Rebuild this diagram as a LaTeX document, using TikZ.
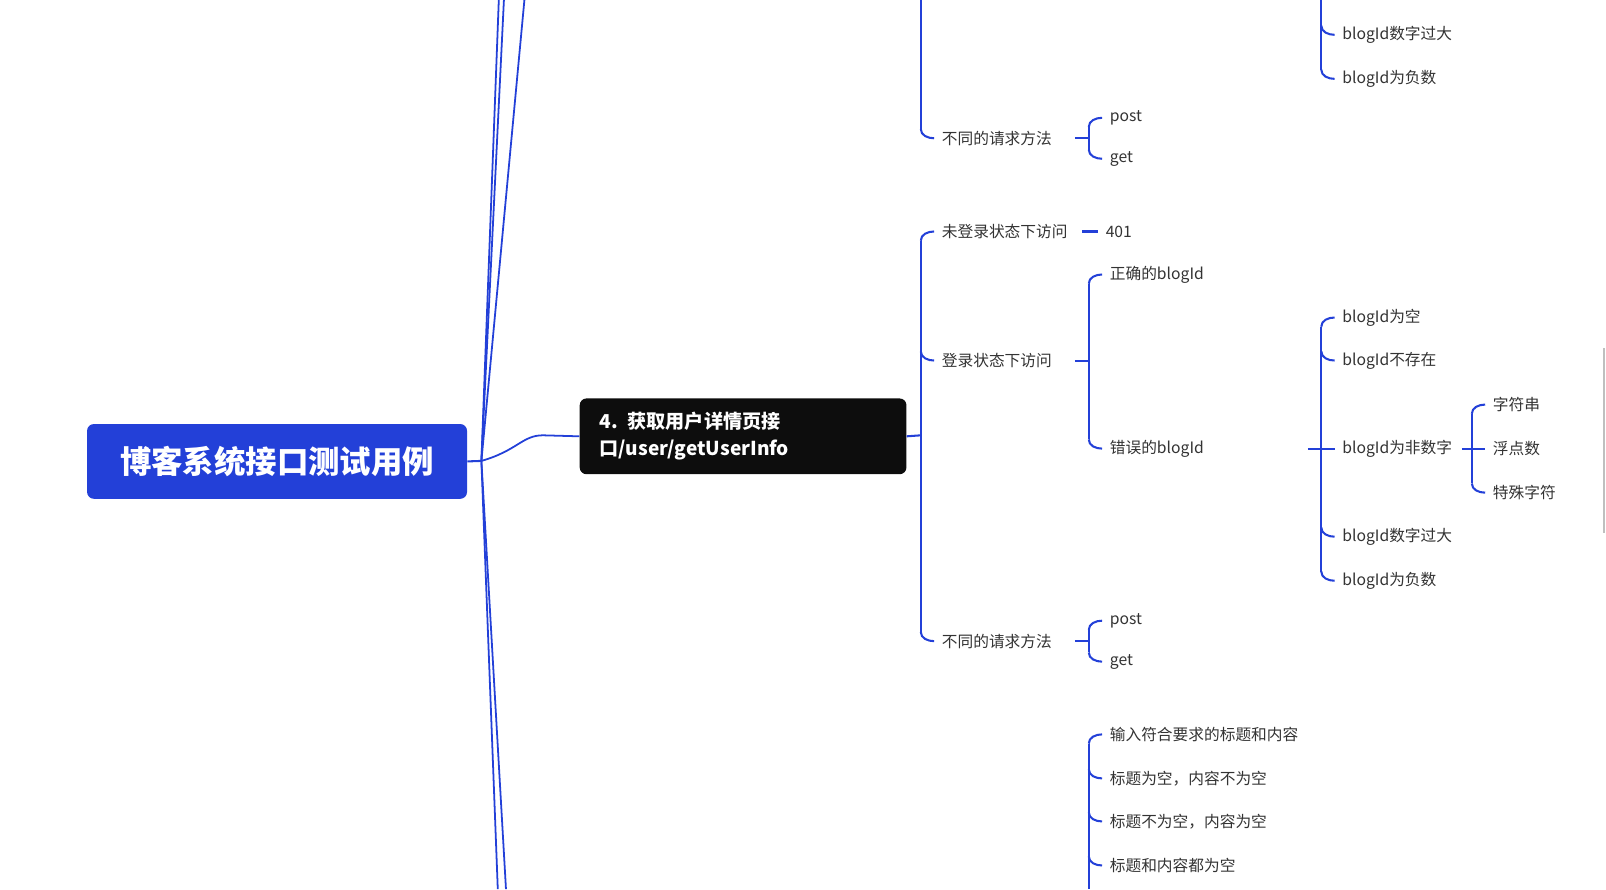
\documentclass[tikz,border=0pt]{standalone}
\usepackage{fontspec}
\setmainfont{Noto Sans CJK SC}
\definecolor{bl}{HTML}{2340D8}
\definecolor{tx}{HTML}{333333}
\begin{document}
\begin{tikzpicture}[x=0.75pt,y=-0.75pt,
  br/.style={draw=bl,line width=1.5pt},
  lbl/.style={text=tx,font=\fontsize{11.5}{13}\selectfont,inner xsep=5.5pt,inner ysep=0pt,anchor=west}]
\useasboundingbox (0,0) rectangle (1568,868);
% first: curve from below (top child); rest: curve from above
\newcommand\kidf[4]{\node[lbl] (#1) at (#2+13,#3) {#4};\draw[br] (#2,#3+9) to[out=90,in=180] (#1.west);}
\newcommand\kidr[4]{\node[lbl] (#1) at (#2+13,#3) {#4};\draw[br] (#2,#3-9) to[out=-90,in=180] (#1.west);}
\newcommand\kids[4]{\node[lbl] (#1) at (#2+13,#3) {#4};\draw[br] (#2,#3) -- (#1.west);}
% root
\node[fill=bl,rounded corners=5pt,minimum width=371*0.75pt,minimum height=73*0.75pt,text=white,font=\fontsize{23}{26}\selectfont\bfseries] (root) at (270.5,450.5) {博客系统接口测试用例};
\coordinate (j) at (470,450);
\draw[br] (root.east) -- (j);
% main trunk lines
\coordinate (t1) at (487,0);\coordinate (t2) at (492,0);\coordinate (t3) at (512,0);
\coordinate (b1) at (486,868);\coordinate (b2) at (494,868);
\foreach \e in {t1,t2,t3,b1,b2} \draw[br,line width=1.3pt] (j) -- (\e);
% node 4
\node[fill=black!95,rounded corners=5pt,minimum width=319*0.75pt,minimum height=74*0.75pt,text=white,align=left,text width=280*0.75pt,font=\fontsize{14}{19.5}\selectfont\bfseries] (n4) at (725.5,426) {4. 获取用户详情页接\\口/user/getUserInfo};
\draw[br,line width=1.3pt] (j) .. controls (505,440) and (510,425) .. (530,425) -- (n4.west);
% node 3 remnants (top)
\draw[br] (899,0) -- (899,126);
\kidr{a3}{899}{135}{不同的请求方法}
\draw[br] (a3.east) ++(15,0) -- (1063,135);
\draw[br] (1063,124) -- (1063,146);
\kidf{a3p}{1063}{115}{post}
\kidr{a3g}{1063}{155}{get}
\draw[br] (1290,0) -- (1290,68);
\kidr{a1}{1290}{34}{blogId数字过大}
\kidr{a2}{1290}{77}{blogId为负数}
% node 4 children
\draw[br] (n4.east) -- (899,425);
\draw[br] (899,235) -- (899,617);
\kidf{c1}{899}{226}{未登录状态下访问}
\kidr{c2}{899}{352}{登录状态下访问}
\kidr{c3}{899}{626}{不同的请求方法}
\node[lbl] (c11) at (1072,226) {401};
\draw[br] (c1.east) ++(7,0) -- (c11.west);
\draw[br] (c2.east) ++(15,0) -- (1063,352);
\draw[br] (1063,277) -- (1063,429);
\kidf{d1}{1063}{268}{正确的blogId}
\kidr{d2}{1063}{438}{错误的blogId}
\draw[br] (1277,438) -- (1290,438);
\draw[br] (1290,319) -- (1290,558);
\kidf{e1}{1290}{310}{blogId为空}
\kidr{e2}{1290}{352}{blogId不存在}
\kids{e3}{1290}{438}{blogId为非数字}
\kidr{e4}{1290}{524}{blogId数字过大}
\kidr{e5}{1290}{567}{blogId为负数}
\draw[br] (e3.east) ++(2,0) -- (1437,438);
\draw[br] (1437,404) -- (1437,472);
\kidf{f1}{1437}{395}{字符串}
\kids{f2}{1437}{438}{浮点数}
\kidr{f3}{1437}{481}{特殊字符}
\draw[br] (c3.east) ++(15,0) -- (1063,626);
\draw[br] (1063,615) -- (1063,637);
\kidf{g1}{1063}{606}{post}
\kidr{g2}{1063}{646}{get}
% bottom node
\draw[br] (1063,726) -- (1063,868);
\kidf{h1}{1063}{717}{输入符合要求的标题和内容}
\kidr{h2}{1063}{760}{标题为空，内容不为空}
\kidr{h3}{1063}{802}{标题不为空，内容为空}
\kidr{h4}{1063}{845}{标题和内容都为空}
% scrollbar
\draw[gray!50,line width=1pt] (1566,340) -- (1566,520);
\end{tikzpicture}
\end{document}
